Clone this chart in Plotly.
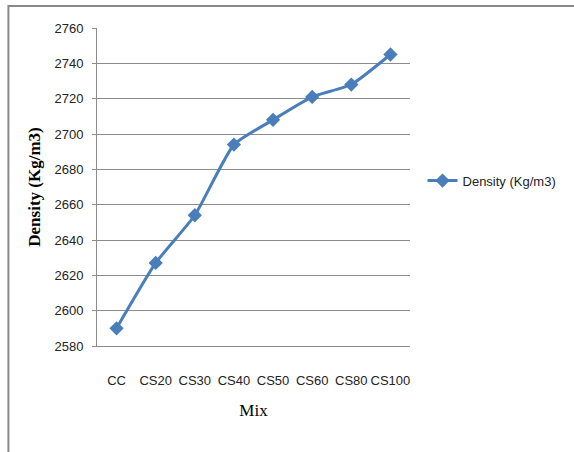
import plotly.graph_objects as go

# Density per mix
mixes = ['CC', 'CS20', 'CS30', 'CS40', 'CS50', 'CS60', 'CS80', 'CS100']
density = [2590, 2627, 2654, 2694, 2708, 2721, 2728, 2745]
y_ticks = [2580, 2600, 2620, 2640, 2660, 2680, 2700, 2720, 2740, 2760]

LINE_BLUE = '#4a7ebb'
GRID_GRAY = '#8c8c8c'
TICK_FONT = 'Liberation Sans, Arial, sans-serif'
SERIF = 'Liberation Serif, Times New Roman, serif'

fig = go.Figure()
fig.add_trace(go.Scatter(
    x=mixes, y=density, name='Density (Kg/m3)', mode='lines+markers',
    line=dict(color=LINE_BLUE, width=3, shape='spline', smoothing=0.5),
    marker=dict(symbol='diamond', size=11, color=LINE_BLUE),
))

fig.update_layout(
    width=574, height=452,
    paper_bgcolor='white', plot_bgcolor='white',
    margin=dict(l=97, r=159, t=28, b=106),
    font=dict(family=TICK_FONT, size=13, color='#222222'),
    showlegend=True,
    legend=dict(x=1.04, y=0.52, xanchor='left', yanchor='middle',
                font=dict(family=TICK_FONT, size=13, color='#222222'),
                bgcolor='rgba(0,0,0,0)'),
    xaxis=dict(
        type='category', range=[-0.5, 7.5], automargin=False,
        showgrid=False, showline=True, linecolor=GRID_GRAY, linewidth=1,
        ticks='', tickangle=0, ticklabelstandoff=22,
        tickfont=dict(family=TICK_FONT, size=13, color='#222222'),
        title=dict(text='Mix', font=dict(family=SERIF, size=17, color='black'), standoff=17),
    ),
    yaxis=dict(
        range=[2580, 2760], tickvals=y_ticks, automargin=False,
        showgrid=True, gridcolor=GRID_GRAY, gridwidth=1,
        showline=True, linecolor=GRID_GRAY, linewidth=1,
        ticks='outside', ticklen=4, tickcolor=GRID_GRAY,
        ticklabelstandoff=6,
        zeroline=False,
        tickfont=dict(family=TICK_FONT, size=13, color='#222222'),
        title=dict(text='<b>Density (Kg/m3)</b>', font=dict(family=SERIF, size=17, color='black'), standoff=9),
    ),
)

# outer frame: only its top and left edges fall inside the picture
fig.add_shape(type='rect', xref='paper', yref='paper', x0=-0.283, x1=1.56, y0=-0.4, y1=1.069,
              line=dict(color='#8a8a8a', width=2), fillcolor='rgba(0,0,0,0)', layer='below')

# drop the browser's default page margin so the figure sits at the window origin
fig.write_html('out.html', config={'displayModeBar': False},
               post_script="document.body.style.margin='0px';")
